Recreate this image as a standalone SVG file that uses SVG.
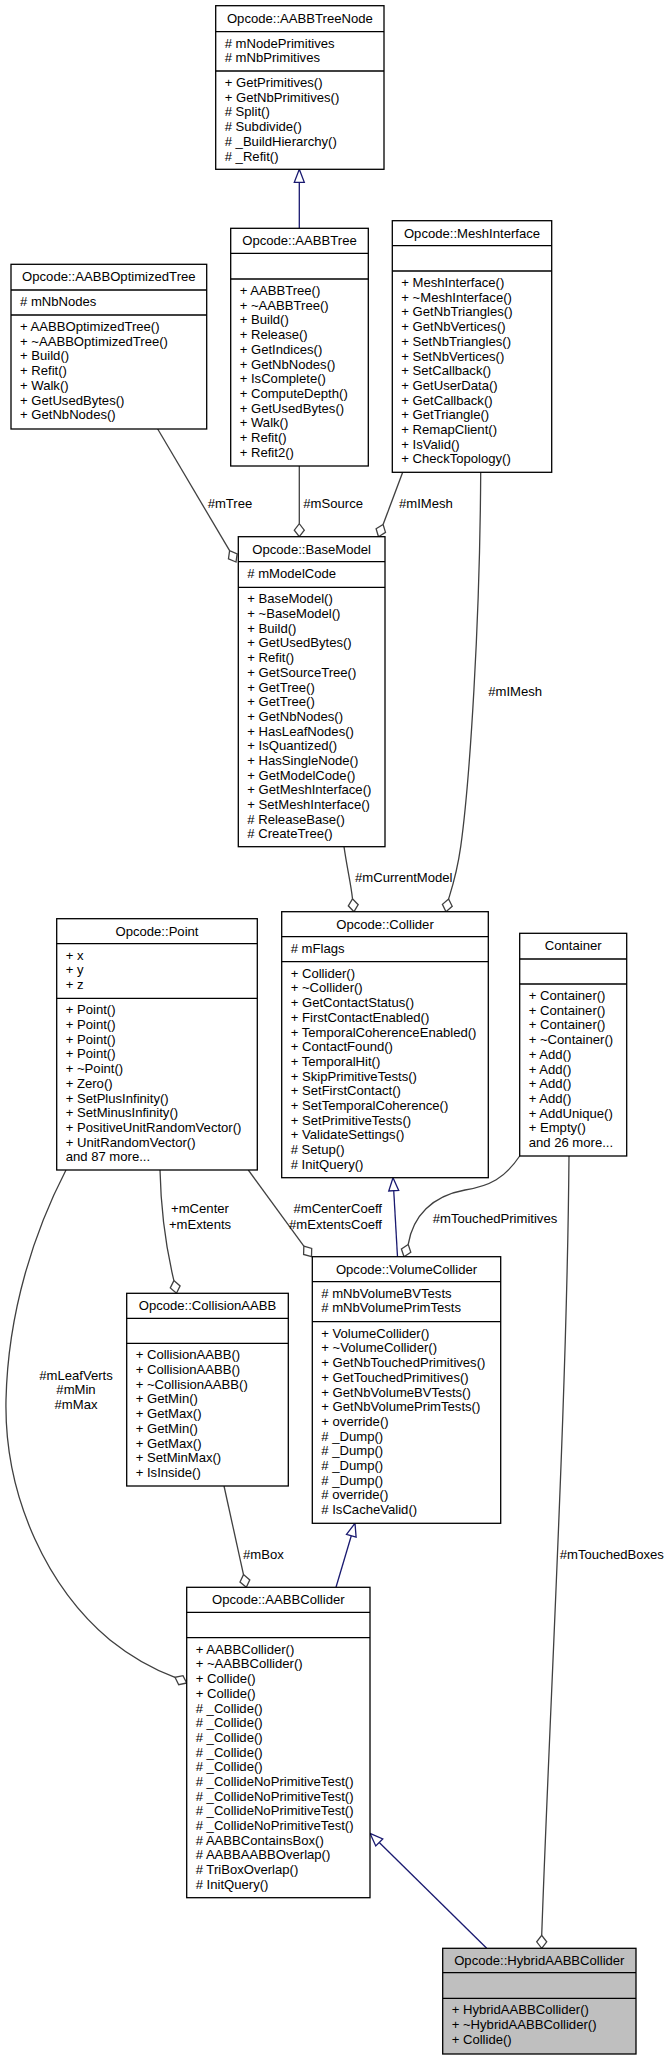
<svg xmlns="http://www.w3.org/2000/svg" width="670" height="2060" viewBox="0 0 670 2060">
<style>
.bg{fill:#fff}
.box{fill:#fff;stroke:#000;stroke-width:1.3}
.focus{fill:#bfbfbf;stroke:#000;stroke-width:1.3}
.sep{stroke:#000;stroke-width:1.3}
.t{font-family:"Liberation Sans",Arial,Helvetica,sans-serif;font-size:13.1px;fill:#000}
.c{text-anchor:middle}
.end{text-anchor:end}
.u{fill:none;stroke:#404040;stroke-width:1.3}
.inh{fill:none;stroke:#191970;stroke-width:1.3}
.dia{fill:#fff;stroke:#404040;stroke-width:1.3}
.tri{fill:#fff;stroke:#191970;stroke-width:1.3}
</style>
<rect class="bg" x="0" y="0" width="670" height="2060"/>

<g id="connectors">
  <path class="inh" d="M299.3,228.3 L299.3,182.3"/>
  <polygon class="tri" points="299.3,169.3 304.3,182.3 294.3,182.3"/>
  <path class="u" d="M157.7,429 L229.6,550.7"/>
  <polygon class="dia" points="236,562 228.45,558.8 229.6,550.7 237.15,553.9"/>
  <text class="t end" x="252.3" y="508">#mTree</text>
  <path class="u" d="M299.3,466 L299.3,523.7"/>
  <polygon class="dia" points="299.3,536.7 304.3,530.2 299.3,523.7 294.3,530.2"/>
  <text class="t" x="303.3" y="508">#mSource</text>
  <path class="u" d="M402.7,472.3 L383.1,524.5"/>
  <polygon class="dia" points="378.5,536.7 376.1,528.8 383.1,524.5 385.5,532.4"/>
  <text class="t" x="399" y="508">#mIMesh</text>
  <path class="u" d="M480.7,472.3 C480,620 470,780 460.7,846.7 C457,873 452,888 448.6,899"/>
  <polygon class="dia" points="446,911.7 442.4,904.3 448.6,899 452.2,906.3"/>
  <text class="t" x="488.3" y="696.4">#mIMesh</text>
  <path class="u" d="M344,846.7 C347,868 351,884 352.5,898.8"/>
  <polygon class="dia" points="354,911.7 348.3,905.8 352.5,898.8 358.2,904.7"/>
  <text class="t" x="355" y="882">#mCurrentModel</text>
  <path class="inh" d="M397.5,1256.7 L393.74,1190.7"/>
  <polygon class="tri" points="393,1177.7 398.7,1190.4 388.75,1191"/>
  <path class="u" d="M519.7,1156 C505,1178 490,1186 465,1190 C432,1196 413,1216 408.2,1244.4"/>
  <polygon class="dia" points="404,1256.7 401.4,1248.9 408.2,1244.4 410.8,1252.2"/>
  <text class="t c" x="495" y="1222.5">#mTouchedPrimitives</text>
  <path class="u" d="M569,1156 C567,1400 550,1700 541.7,1935.3"/>
  <polygon class="dia" points="541.7,1948.3 546.7,1941.8 541.7,1935.3 536.7,1941.8"/>
  <text class="t" x="559.8" y="1559">#mTouchedBoxes</text>
  <path class="u" d="M160,1170 C161,1215 167,1252 173.9,1280.6"/>
  <polygon class="dia" points="176.5,1293.3 170.3,1287.9 173.9,1280.6 180.1,1285.9"/>
  <text class="t c" x="200" y="1213.3">+mCenter</text>
  <text class="t c" x="200" y="1228.6">+mExtents</text>
  <path class="u" d="M248.3,1170 L303.84,1246.2"/>
  <polygon class="dia" points="311.5,1256.7 303.6,1254.4 303.84,1246.2 311.7,1248.5"/>
  <text class="t end" x="382" y="1213.3">#mCenterCoeff</text>
  <text class="t end" x="382" y="1228.6">#mExtentsCoeff</text>
  <path class="u" d="M66,1170 C35,1230 8,1310 6,1400 C4,1500 50,1590 110,1640 C135,1660 155,1670 175,1677.3"/>
  <polygon class="dia" points="186.7,1683 178.7,1684.7 175,1677.3 183,1675.7"/>
  <text class="t c" x="76" y="1379.5">#mLeafVerts</text>
  <text class="t c" x="76" y="1394.2">#mMin</text>
  <text class="t c" x="76" y="1408.9">#mMax</text>
  <path class="u" d="M224,1486 L243.5,1574.6"/>
  <polygon class="dia" points="246.3,1587.3 240,1582 243.5,1574.6 249.8,1579.9"/>
  <text class="t" x="243" y="1559">#mBox</text>
  <path class="inh" d="M336,1587.3 L351.3,1535.8"/>
  <polygon class="tri" points="355,1523.3 356.1,1537.2 346.5,1534.4"/>
  <path class="inh" d="M486.7,1948.3 L379.26,1842.43"/>
  <polygon class="tri" points="370,1833.3 382.77,1838.87 375.75,1845.99"/>
</g>

<g id="AABBTreeNode">
  <rect class="box" x="215.7" y="5.7" width="168.3" height="163.6"/>
  <line class="sep" x1="215.7" y1="31.7" x2="384" y2="31.7"/>
  <line class="sep" x1="215.7" y1="71" x2="384" y2="71"/>
  <text class="t c" x="299.85" y="22.7">Opcode::AABBTreeNode</text>
  <text class="t" x="224.7" y="47.7"><tspan x="224.7"># mNodePrimitives</tspan><tspan x="224.7" dy="14.7"># mNbPrimitives</tspan></text>
  <text class="t" x="224.7" y="87"><tspan x="224.7">+ GetPrimitives()</tspan><tspan x="224.7" dy="14.7">+ GetNbPrimitives()</tspan><tspan x="224.7" dy="14.7"># Split()</tspan><tspan x="224.7" dy="14.7"># Subdivide()</tspan><tspan x="224.7" dy="14.7"># _BuildHierarchy()</tspan><tspan x="224.7" dy="14.7"># _Refit()</tspan></text>
</g>

<g id="AABBTree">
  <rect class="box" x="230.7" y="228.3" width="137.6" height="237.7"/>
  <line class="sep" x1="230.7" y1="253.3" x2="368.3" y2="253.3"/>
  <line class="sep" x1="230.7" y1="279" x2="368.3" y2="279"/>
  <text class="t c" x="299.5" y="245.3">Opcode::AABBTree</text>
  <text class="t" x="239.7" y="295"><tspan x="239.7">+ AABBTree()</tspan><tspan x="239.7" dy="14.7">+ ~AABBTree()</tspan><tspan x="239.7" dy="14.7">+ Build()</tspan><tspan x="239.7" dy="14.7">+ Release()</tspan><tspan x="239.7" dy="14.7">+ GetIndices()</tspan><tspan x="239.7" dy="14.7">+ GetNbNodes()</tspan><tspan x="239.7" dy="14.7">+ IsComplete()</tspan><tspan x="239.7" dy="14.7">+ ComputeDepth()</tspan><tspan x="239.7" dy="14.7">+ GetUsedBytes()</tspan><tspan x="239.7" dy="14.7">+ Walk()</tspan><tspan x="239.7" dy="14.7">+ Refit()</tspan><tspan x="239.7" dy="14.7">+ Refit2()</tspan></text>
</g>

<g id="AABBOptimizedTree">
  <rect class="box" x="11" y="264.3" width="195.7" height="164.7"/>
  <line class="sep" x1="11" y1="290" x2="206.7" y2="290"/>
  <line class="sep" x1="11" y1="315" x2="206.7" y2="315"/>
  <text class="t c" x="108.85" y="281.3">Opcode::AABBOptimizedTree</text>
  <text class="t" x="20" y="306"># mNbNodes</text>
  <text class="t" x="20" y="331"><tspan x="20">+ AABBOptimizedTree()</tspan><tspan x="20" dy="14.7">+ ~AABBOptimizedTree()</tspan><tspan x="20" dy="14.7">+ Build()</tspan><tspan x="20" dy="14.7">+ Refit()</tspan><tspan x="20" dy="14.7">+ Walk()</tspan><tspan x="20" dy="14.7">+ GetUsedBytes()</tspan><tspan x="20" dy="14.7">+ GetNbNodes()</tspan></text>
</g>

<g id="MeshInterface">
  <rect class="box" x="392.3" y="220.7" width="159.4" height="251.6"/>
  <line class="sep" x1="392.3" y1="245.7" x2="551.7" y2="245.7"/>
  <line class="sep" x1="392.3" y1="271" x2="551.7" y2="271"/>
  <text class="t c" x="472" y="237.7">Opcode::MeshInterface</text>
  <text class="t" x="401.3" y="287"><tspan x="401.3">+ MeshInterface()</tspan><tspan x="401.3" dy="14.7">+ ~MeshInterface()</tspan><tspan x="401.3" dy="14.7">+ GetNbTriangles()</tspan><tspan x="401.3" dy="14.7">+ GetNbVertices()</tspan><tspan x="401.3" dy="14.7">+ SetNbTriangles()</tspan><tspan x="401.3" dy="14.7">+ SetNbVertices()</tspan><tspan x="401.3" dy="14.7">+ SetCallback()</tspan><tspan x="401.3" dy="14.7">+ GetUserData()</tspan><tspan x="401.3" dy="14.7">+ GetCallback()</tspan><tspan x="401.3" dy="14.7">+ GetTriangle()</tspan><tspan x="401.3" dy="14.7">+ RemapClient()</tspan><tspan x="401.3" dy="14.7">+ IsValid()</tspan><tspan x="401.3" dy="14.7">+ CheckTopology()</tspan></text>
</g>

<g id="BaseModel">
  <rect class="box" x="238.3" y="536.7" width="146.7" height="310"/>
  <line class="sep" x1="238.3" y1="561.7" x2="385" y2="561.7"/>
  <line class="sep" x1="238.3" y1="587.3" x2="385" y2="587.3"/>
  <text class="t c" x="311.65" y="553.7">Opcode::BaseModel</text>
  <text class="t" x="247.3" y="577.7"># mModelCode</text>
  <text class="t" x="247.3" y="603.3"><tspan x="247.3">+ BaseModel()</tspan><tspan x="247.3" dy="14.7">+ ~BaseModel()</tspan><tspan x="247.3" dy="14.7">+ Build()</tspan><tspan x="247.3" dy="14.7">+ GetUsedBytes()</tspan><tspan x="247.3" dy="14.7">+ Refit()</tspan><tspan x="247.3" dy="14.7">+ GetSourceTree()</tspan><tspan x="247.3" dy="14.7">+ GetTree()</tspan><tspan x="247.3" dy="14.7">+ GetTree()</tspan><tspan x="247.3" dy="14.7">+ GetNbNodes()</tspan><tspan x="247.3" dy="14.7">+ HasLeafNodes()</tspan><tspan x="247.3" dy="14.7">+ IsQuantized()</tspan><tspan x="247.3" dy="14.7">+ HasSingleNode()</tspan><tspan x="247.3" dy="14.7">+ GetModelCode()</tspan><tspan x="247.3" dy="14.7">+ GetMeshInterface()</tspan><tspan x="247.3" dy="14.7">+ SetMeshInterface()</tspan><tspan x="247.3" dy="14.7"># ReleaseBase()</tspan><tspan x="247.3" dy="14.7"># CreateTree()</tspan></text>
</g>

<g id="Point">
  <rect class="box" x="56.7" y="918.7" width="200.6" height="251.3"/>
  <line class="sep" x1="56.7" y1="943.7" x2="257.3" y2="943.7"/>
  <line class="sep" x1="56.7" y1="998.3" x2="257.3" y2="998.3"/>
  <text class="t c" x="157" y="935.7">Opcode::Point</text>
  <text class="t" x="65.7" y="959.7"><tspan x="65.7">+ x</tspan><tspan x="65.7" dy="14.7">+ y</tspan><tspan x="65.7" dy="14.7">+ z</tspan></text>
  <text class="t" x="65.7" y="1014.3"><tspan x="65.7">+ Point()</tspan><tspan x="65.7" dy="14.7">+ Point()</tspan><tspan x="65.7" dy="14.7">+ Point()</tspan><tspan x="65.7" dy="14.7">+ Point()</tspan><tspan x="65.7" dy="14.7">+ ~Point()</tspan><tspan x="65.7" dy="14.7">+ Zero()</tspan><tspan x="65.7" dy="14.7">+ SetPlusInfinity()</tspan><tspan x="65.7" dy="14.7">+ SetMinusInfinity()</tspan><tspan x="65.7" dy="14.7">+ PositiveUnitRandomVector()</tspan><tspan x="65.7" dy="14.7">+ UnitRandomVector()</tspan><tspan x="65.7" dy="14.7">and 87 more...</tspan></text>
</g>

<g id="Collider">
  <rect class="box" x="281.7" y="911.7" width="206.6" height="266"/>
  <line class="sep" x1="281.7" y1="936.7" x2="488.3" y2="936.7"/>
  <line class="sep" x1="281.7" y1="961.7" x2="488.3" y2="961.7"/>
  <text class="t c" x="385" y="928.7">Opcode::Collider</text>
  <text class="t" x="290.7" y="952.7"># mFlags</text>
  <text class="t" x="290.7" y="977.7"><tspan x="290.7">+ Collider()</tspan><tspan x="290.7" dy="14.7">+ ~Collider()</tspan><tspan x="290.7" dy="14.7">+ GetContactStatus()</tspan><tspan x="290.7" dy="14.7">+ FirstContactEnabled()</tspan><tspan x="290.7" dy="14.7">+ TemporalCoherenceEnabled()</tspan><tspan x="290.7" dy="14.7">+ ContactFound()</tspan><tspan x="290.7" dy="14.7">+ TemporalHit()</tspan><tspan x="290.7" dy="14.7">+ SkipPrimitiveTests()</tspan><tspan x="290.7" dy="14.7">+ SetFirstContact()</tspan><tspan x="290.7" dy="14.7">+ SetTemporalCoherence()</tspan><tspan x="290.7" dy="14.7">+ SetPrimitiveTests()</tspan><tspan x="290.7" dy="14.7">+ ValidateSettings()</tspan><tspan x="290.7" dy="14.7"># Setup()</tspan><tspan x="290.7" dy="14.7"># InitQuery()</tspan></text>
</g>

<g id="Container">
  <rect class="box" x="519.7" y="933.3" width="107" height="222.7"/>
  <line class="sep" x1="519.7" y1="959" x2="626.7" y2="959"/>
  <line class="sep" x1="519.7" y1="984" x2="626.7" y2="984"/>
  <text class="t c" x="573.2" y="950.3">Container</text>
  <text class="t" x="528.7" y="1000"><tspan x="528.7">+ Container()</tspan><tspan x="528.7" dy="14.7">+ Container()</tspan><tspan x="528.7" dy="14.7">+ Container()</tspan><tspan x="528.7" dy="14.7">+ ~Container()</tspan><tspan x="528.7" dy="14.7">+ Add()</tspan><tspan x="528.7" dy="14.7">+ Add()</tspan><tspan x="528.7" dy="14.7">+ Add()</tspan><tspan x="528.7" dy="14.7">+ Add()</tspan><tspan x="528.7" dy="14.7">+ AddUnique()</tspan><tspan x="528.7" dy="14.7">+ Empty()</tspan><tspan x="528.7" dy="14.7">and 26 more...</tspan></text>
</g>

<g id="VolumeCollider">
  <rect class="box" x="312.3" y="1256.7" width="188.4" height="266.6"/>
  <line class="sep" x1="312.3" y1="1281.7" x2="500.7" y2="1281.7"/>
  <line class="sep" x1="312.3" y1="1321.7" x2="500.7" y2="1321.7"/>
  <text class="t c" x="406.5" y="1273.7">Opcode::VolumeCollider</text>
  <text class="t" x="321.3" y="1297.7"><tspan x="321.3"># mNbVolumeBVTests</tspan><tspan x="321.3" dy="14.7"># mNbVolumePrimTests</tspan></text>
  <text class="t" x="321.3" y="1337.7"><tspan x="321.3">+ VolumeCollider()</tspan><tspan x="321.3" dy="14.7">+ ~VolumeCollider()</tspan><tspan x="321.3" dy="14.7">+ GetNbTouchedPrimitives()</tspan><tspan x="321.3" dy="14.7">+ GetTouchedPrimitives()</tspan><tspan x="321.3" dy="14.7">+ GetNbVolumeBVTests()</tspan><tspan x="321.3" dy="14.7">+ GetNbVolumePrimTests()</tspan><tspan x="321.3" dy="14.7">+ override()</tspan><tspan x="321.3" dy="14.7"># _Dump()</tspan><tspan x="321.3" dy="14.7"># _Dump()</tspan><tspan x="321.3" dy="14.7"># _Dump()</tspan><tspan x="321.3" dy="14.7"># _Dump()</tspan><tspan x="321.3" dy="14.7"># override()</tspan><tspan x="321.3" dy="14.7"># IsCacheValid()</tspan></text>
</g>

<g id="CollisionAABB">
  <rect class="box" x="126.7" y="1293.3" width="161.6" height="192.7"/>
  <line class="sep" x1="126.7" y1="1318.3" x2="288.3" y2="1318.3"/>
  <line class="sep" x1="126.7" y1="1343.3" x2="288.3" y2="1343.3"/>
  <text class="t c" x="207.5" y="1310.3">Opcode::CollisionAABB</text>
  <text class="t" x="135.7" y="1359.3"><tspan x="135.7">+ CollisionAABB()</tspan><tspan x="135.7" dy="14.7">+ CollisionAABB()</tspan><tspan x="135.7" dy="14.7">+ ~CollisionAABB()</tspan><tspan x="135.7" dy="14.7">+ GetMin()</tspan><tspan x="135.7" dy="14.7">+ GetMax()</tspan><tspan x="135.7" dy="14.7">+ GetMin()</tspan><tspan x="135.7" dy="14.7">+ GetMax()</tspan><tspan x="135.7" dy="14.7">+ SetMinMax()</tspan><tspan x="135.7" dy="14.7">+ IsInside()</tspan></text>
</g>

<g id="AABBCollider">
  <rect class="box" x="186.7" y="1587.3" width="183.3" height="310.4"/>
  <line class="sep" x1="186.7" y1="1612.3" x2="370" y2="1612.3"/>
  <line class="sep" x1="186.7" y1="1637.7" x2="370" y2="1637.7"/>
  <text class="t c" x="278.35" y="1604.3">Opcode::AABBCollider</text>
  <text class="t" x="195.7" y="1653.7"><tspan x="195.7">+ AABBCollider()</tspan><tspan x="195.7" dy="14.7">+ ~AABBCollider()</tspan><tspan x="195.7" dy="14.7">+ Collide()</tspan><tspan x="195.7" dy="14.7">+ Collide()</tspan><tspan x="195.7" dy="14.7"># _Collide()</tspan><tspan x="195.7" dy="14.7"># _Collide()</tspan><tspan x="195.7" dy="14.7"># _Collide()</tspan><tspan x="195.7" dy="14.7"># _Collide()</tspan><tspan x="195.7" dy="14.7"># _Collide()</tspan><tspan x="195.7" dy="14.7"># _CollideNoPrimitiveTest()</tspan><tspan x="195.7" dy="14.7"># _CollideNoPrimitiveTest()</tspan><tspan x="195.7" dy="14.7"># _CollideNoPrimitiveTest()</tspan><tspan x="195.7" dy="14.7"># _CollideNoPrimitiveTest()</tspan><tspan x="195.7" dy="14.7"># AABBContainsBox()</tspan><tspan x="195.7" dy="14.7"># AABBAABBOverlap()</tspan><tspan x="195.7" dy="14.7"># TriBoxOverlap()</tspan><tspan x="195.7" dy="14.7"># InitQuery()</tspan></text>
</g>

<g id="HybridAABBCollider">
  <rect class="focus" x="442.7" y="1948.3" width="193.3" height="105.7"/>
  <line class="sep" x1="442.7" y1="1972.7" x2="636" y2="1972.7"/>
  <line class="sep" x1="442.7" y1="1998.3" x2="636" y2="1998.3"/>
  <text class="t c" x="539.35" y="1965.3">Opcode::HybridAABBCollider</text>
  <text class="t" x="451.7" y="2014.3"><tspan x="451.7">+ HybridAABBCollider()</tspan><tspan x="451.7" dy="14.7">+ ~HybridAABBCollider()</tspan><tspan x="451.7" dy="14.7">+ Collide()</tspan></text>
</g>
</svg>
